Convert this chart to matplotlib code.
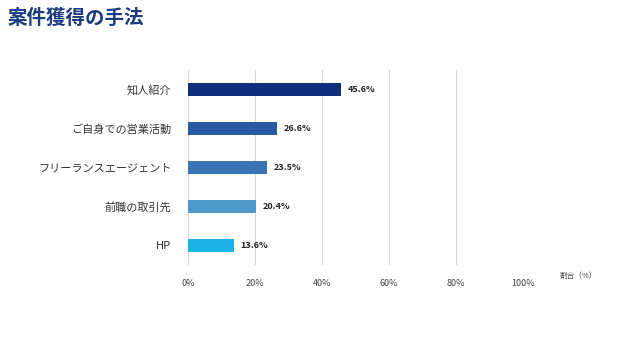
import matplotlib.pyplot as plt

plt.rcParams['font.family'] = ['Noto Sans CJK JP', 'DejaVu Sans']

# data
categories = ['知人紹介', 'ご自身での営業活動', 'フリーランスエージェント', '前職の取引先', 'HP']
values = [45.6, 26.6, 23.5, 20.4, 13.6]
colors = ['#0f2f7c', '#2a5aa3', '#3a73b6', '#4f98cc', '#1fb2e6']
xticks = [0, 20, 40, 60, 80, 100]

fig = plt.figure(figsize=(6.4, 3.6), dpi=100)
ax = fig.add_axes([0.294, 0.264, 0.523, 0.542])

y = range(len(categories))
ax.barh(y, values, height=0.32, color=colors, zorder=3)
for i, v in enumerate(values):
    ax.text(v + 2, i, f'{v}%', va='center', ha='left', fontsize=6.5,
            fontweight='bold', color='#222222')

ax.set_xlim(0, 100)
ax.set_ylim(4.5, -0.5)
ax.set_yticks(list(y))
ax.set_yticklabels(categories, fontsize=8, color='#333333')
ax.set_xticks(xticks)
ax.set_xticklabels([f'{t}%' for t in xticks], fontsize=6.5, color='#444444')
ax.tick_params(length=0, pad=10)
ax.tick_params(axis='y', pad=12)
ax.grid(axis='x', color='#d9d9d9', linewidth=0.8, zorder=0)
for s in ax.spines.values():
    s.set_visible(False)

fig.text(560 / 640, 1 - 276 / 360, '割合（%）', fontsize=5.5, color='#444444',
         ha='left', va='center')
fig.text(8 / 640, 1 - 18 / 360, '案件獲得の手法', fontsize=14, fontweight='bold',
         color='#1b3b7d', ha='left', va='center')

fig.savefig('out.png', dpi=100)
